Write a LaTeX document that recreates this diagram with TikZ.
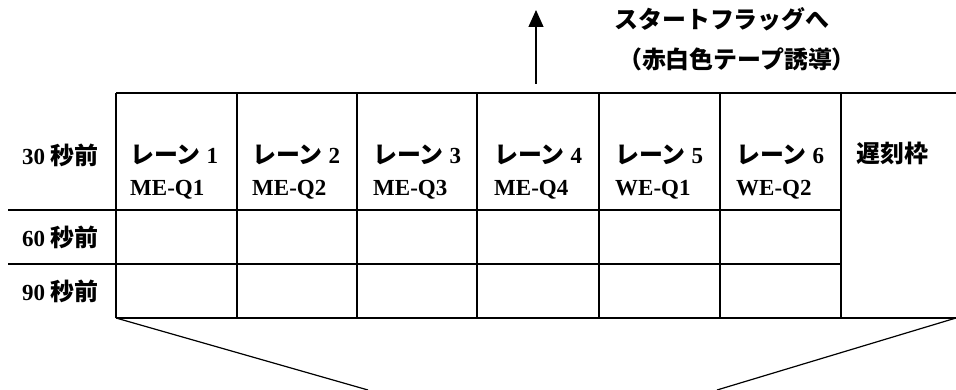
\documentclass[tikz,border=0pt]{standalone}
\usepackage{fontspec}
\setmainfont{Liberation Serif}
\newfontfamily\gothic{Noto Sans CJK JP}[Scale=1.04]
\usetikzlibrary{arrows.meta,positioning}

\begin{document}
\begin{tikzpicture}[x=1pt,y=-1pt,
  label/.style={font=\bfseries\fontsize{23}{27}\selectfont, inner sep=0pt, anchor=west},
  flagtext/.style={font=\gothic\bfseries\fontsize{23}{27}\selectfont, inner sep=0pt},
  grid/.style={line width=1.3pt},
  lead/.style={line width=1.2pt},
]
\useasboundingbox (0,0) rectangle (956,390);

\coordinate (tl) at (116,93);
\coordinate (tr) at (956,93);
\coordinate (bl) at (116,318);
\coordinate (br) at (956,318);
\coordinate (fanL) at (368,390);
\coordinate (fanR) at (717,390);
\coordinate (flagfoot) at (536,84);
\coordinate (flagtip) at (536,10);

\draw[grid] (tl) -- (tr);
\draw[grid] (bl) -- (br);
\draw[grid] (8,210) -- (841,210);
\draw[grid] (8,264) -- (841,264);
\foreach \x in {116,237,357,477,599,720,841}
  \draw[grid] (\x,93) -- (\x,318);

\node[label] (row30) at (22,155) {30 {\gothic 秒前}};
\node[label] (row60) at (22,237) {60 {\gothic 秒前}};
\node[label] (row90) at (22,291) {90 {\gothic 秒前}};

\foreach \n/\x/\code in {1/130/ME-Q1, 2/252/ME-Q2, 3/373/ME-Q3,
                         4/494/ME-Q4, 5/615/WE-Q1, 6/736/WE-Q2} {
  \node[label] (lane\n) at (\x,155) {{\gothic レーン} \n};
  \node[label] (code\n) at (\x,190) {\code};
}
\node[label] (late) at (856,153) {\gothic 遅刻枠};

\draw[-{Triangle[length=17pt,width=15pt]}, line width=1.2pt] (flagfoot) -- (flagtip);
\node[flagtext] (flag) at (722,19) {スタートフラッグへ};
\node[flagtext] (tape) at (737,59) {（赤白色テープ誘導）};

\draw[lead] (bl) -- (fanL);
\draw[lead] (br) -- (fanR);
\end{tikzpicture}
\end{document}
